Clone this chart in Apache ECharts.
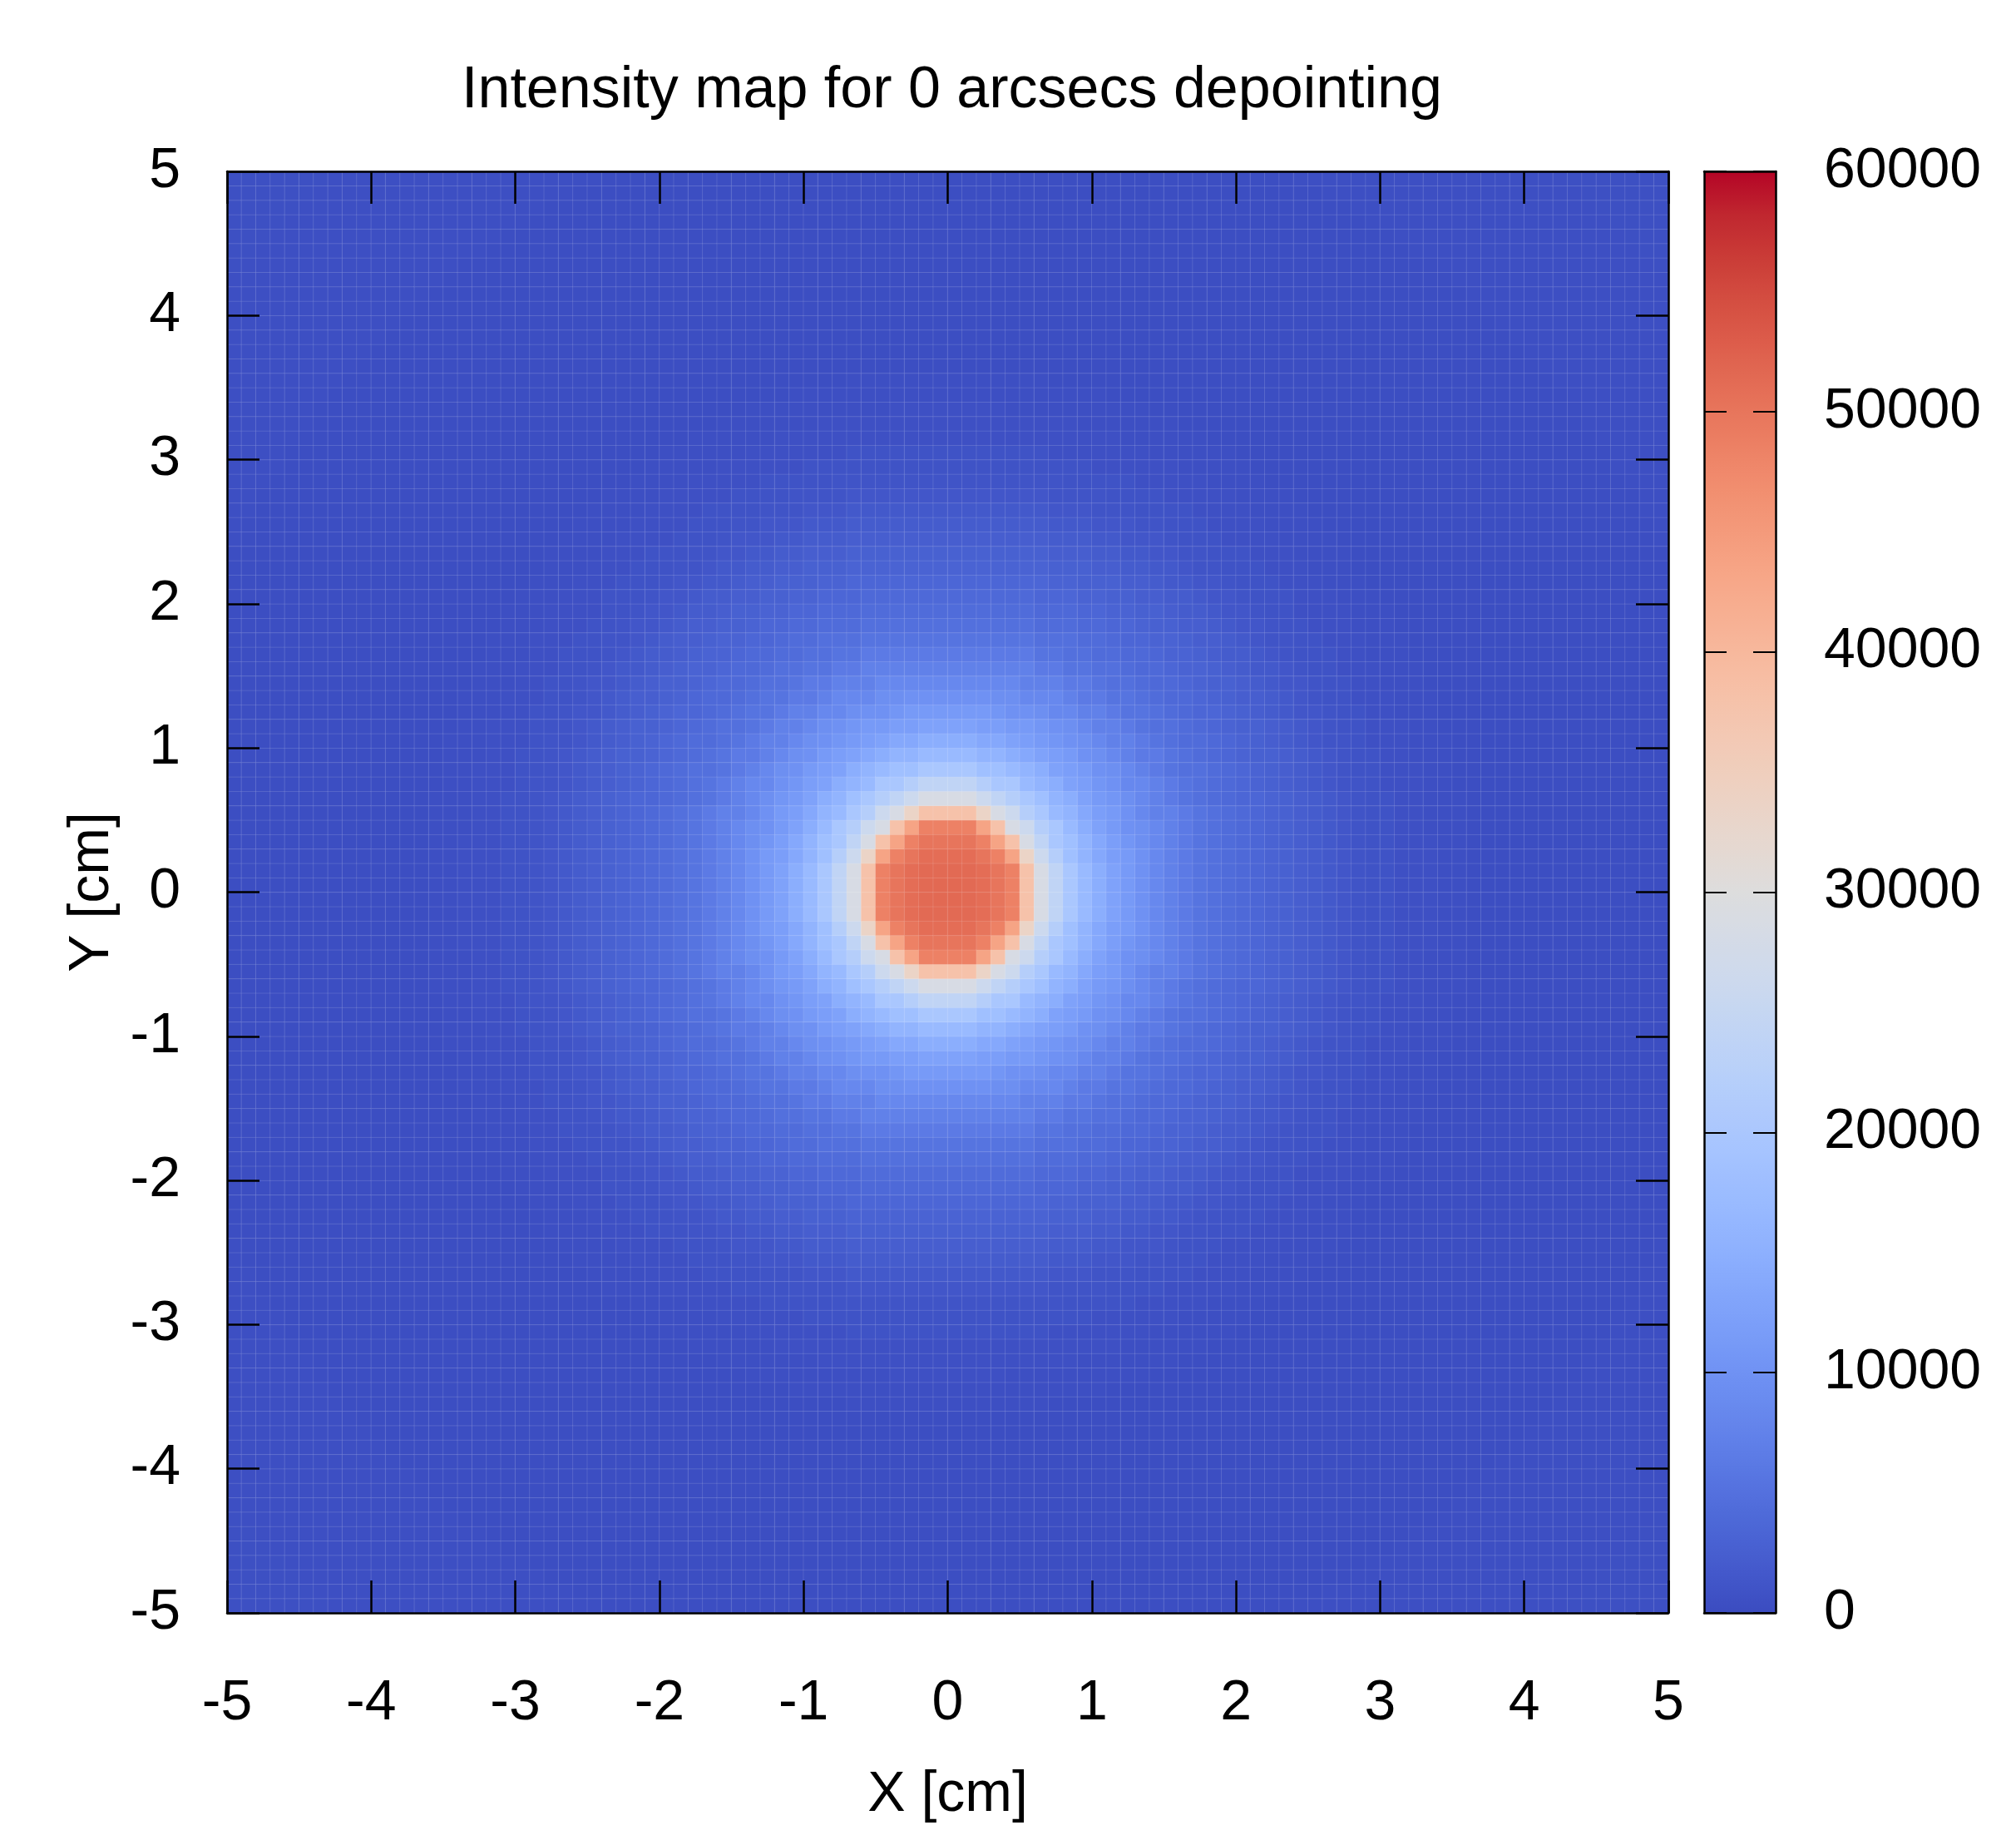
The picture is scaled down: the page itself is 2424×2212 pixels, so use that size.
<!DOCTYPE html>
<html>
<head>
<meta charset="utf-8">
<script src="https://cdn.jsdelivr.net/npm/echarts@6/dist/echarts.min.js"></script>
<style>
  html, body { margin: 0; padding: 0; background: #ffffff; }
  #chart { width: 2424px; height: 2212px; }
</style>
</head>
<body>
<div id="chart"></div>
<script>
// radial intensity profile (distance from centre in cm -> intensity)
const profileRadius = [0, 0.1, 0.2, 0.3, 0.4, 0.45, 0.5, 0.55, 0.6, 0.65, 0.7, 0.75, 0.8, 0.85, 0.9, 0.95,
  1.0, 1.05, 1.1, 1.15, 1.2, 1.25, 1.3, 1.35, 1.4, 1.5, 1.6, 1.7, 1.8, 1.9, 2.0, 2.1, 2.2, 2.3, 2.4, 2.5,
  2.6, 2.7, 2.8, 2.9, 3.0, 3.25, 3.5, 3.75, 4.0, 4.5, 5.0, 6.0, 7.1];
const profileIntensity = [51500, 51500, 51300, 51000, 50000, 48500, 43500, 38000, 33500, 28500, 26200, 24000,
  22000, 20000, 18300, 17000, 15800, 14600, 13700, 12600, 12000, 11300, 10600, 9900, 9500, 8500, 7300, 6400,
  5500, 4900, 4300, 3900, 3500, 3100, 2800, 2400, 2100, 1700, 1400, 1100, 900, 600, 400, 300, 250, 250,
  300, 400, 500];

const barTicks = [0, 10000, 20000, 30000, 40000, 50000, 60000];
const coolwarm = ['#3b4cc0', '#445acc', '#4d68d7', '#5775e1', '#6282ea', '#6c8ef1', '#779af7', '#82a5fb',
  '#8db0fe', '#98b9ff', '#a3c2ff', '#aec9fd', '#b8d0f9', '#c2d5f4', '#ccd9ee', '#d5dbe6', '#dddddd',
  '#e5d8d1', '#ecd3c5', '#f1ccb9', '#f5c4ad', '#f7bba0', '#f7b194', '#f7a687', '#f49a7b', '#f18d6f',
  '#ec7f63', '#e57058', '#de604d', '#d55042', '#cb3e38', '#c0282f', '#b40426'];

// 100 x 100 cells of 0.1 cm
const nCells = 100;
const cellSize = 0.1;
const cellCentres = [];
for (let i = 0; i < nCells; i++) {
  cellCentres.push(+(-5 + cellSize / 2 + i * cellSize).toFixed(2));
}

function intensityAt(r) {
  let best = 0;
  for (let k = 1; k < profileRadius.length; k++) {
    if (Math.abs(profileRadius[k] - r) < Math.abs(profileRadius[best] - r)) best = k;
  }
  return profileIntensity[best];
}

const cells = [];
for (let i = 0; i < nCells; i++) {
  for (let j = 0; j < nCells; j++) {
    const r = Math.sqrt(cellCentres[i] * cellCentres[i] + cellCentres[j] * cellCentres[j]);
    cells.push([i, j, intensityAt(r)]);
  }
}

const font = 'Liberation Sans';
const fs = 68;
const plot = { left: 273, top: 206, width: 1733, height: 1733 };
const bar = { left: 2049, top: 206, width: 86, height: 1733 };

const chart = echarts.init(document.getElementById('chart'), null, { renderer: 'canvas' });

function valueAxis(pos, labels, margin) {
  return {
    type: 'value', gridIndex: 0, position: pos, min: -5, max: 5, interval: 1, z: 10,
    axisLine: { show: true, onZero: false, lineStyle: { color: '#000', width: 2.5 } },
    axisTick: { show: true, inside: true, length: 39, lineStyle: { color: '#000', width: 2.5 } },
    axisLabel: { show: labels, margin: margin, fontSize: fs, fontFamily: font, color: '#000' },
    splitLine: { show: false }
  };
}

const xBottom = valueAxis('bottom', true, 75);
xBottom.name = 'X [cm]';
xBottom.nameLocation = 'middle';
xBottom.nameGap = 185;
xBottom.nameTextStyle = { fontSize: fs, fontFamily: font, color: '#000' };
const yLeft = valueAxis('left', true, 56);
yLeft.name = 'Y [cm]';
yLeft.nameLocation = 'middle';
yLeft.nameGap = 97;
yLeft.nameTextStyle = { fontSize: fs, fontFamily: font, color: '#000' };

function barFrame(pos) {
  return {
    type: 'value', gridIndex: 1, position: pos, min: 0, max: 1, z: 10,
    axisLine: { show: true, onZero: false, lineStyle: { color: '#000', width: 2.5 } },
    axisTick: { show: false }, axisLabel: { show: false }, splitLine: { show: false }
  };
}
function barAxis(pos, labels) {
  return {
    type: 'value', gridIndex: 1, position: pos, min: barTicks[0], max: barTicks[barTicks.length - 1],
    interval: barTicks[1] - barTicks[0], z: 10,
    axisLine: { show: true, onZero: false, lineStyle: { color: '#000', width: 2.5 } },
    axisTick: { show: true, inside: true, length: 27, lineStyle: { color: '#000', width: 2 } },
    axisLabel: {
      show: labels, margin: 58, fontSize: fs, fontFamily: font, color: '#000',
      formatter: function (v) { return String(v); }
    },
    splitLine: { show: false }
  };
}

chart.setOption({
  animation: false,
  backgroundColor: '#ffffff',
  title: {
    text: 'Intensity map for 0 arcsecs depointing',
    left: plot.left + plot.width / 2,
    textAlign: 'center',
    top: 70,
    textStyle: { fontSize: 70, fontWeight: 'normal', fontFamily: font, color: '#000' }
  },
  grid: [
    { left: plot.left, top: plot.top, width: plot.width, height: plot.height },
    { left: bar.left, top: bar.top, width: bar.width, height: bar.height }
  ],
  xAxis: [
    { type: 'category', gridIndex: 0, data: cellCentres, show: false },
    xBottom,
    valueAxis('top', false, 0),
    barFrame('bottom'),
    barFrame('top')
  ],
  yAxis: [
    { type: 'category', gridIndex: 0, data: cellCentres, show: false },
    yLeft,
    valueAxis('right', false, 0),
    barAxis('right', true),
    barAxis('left', false)
  ],
  visualMap: {
    type: 'continuous',
    seriesIndex: 0,
    min: barTicks[0],
    max: barTicks[barTicks.length - 1],
    calculable: false,
    hoverLink: false,
    left: bar.left,
    top: bar.top,
    padding: 0,
    itemWidth: bar.width,
    itemHeight: bar.height,
    inRange: { color: coolwarm },
    z: 4
  },
  series: [{
    type: 'heatmap',
    xAxisIndex: 0,
    yAxisIndex: 0,
    data: cells,
    progressive: 0,
    itemStyle: { borderColor: 'rgba(255,255,255,0.12)', borderWidth: 1 },
    emphasis: { disabled: true }
  }]
});
</script>
</body>
</html>
